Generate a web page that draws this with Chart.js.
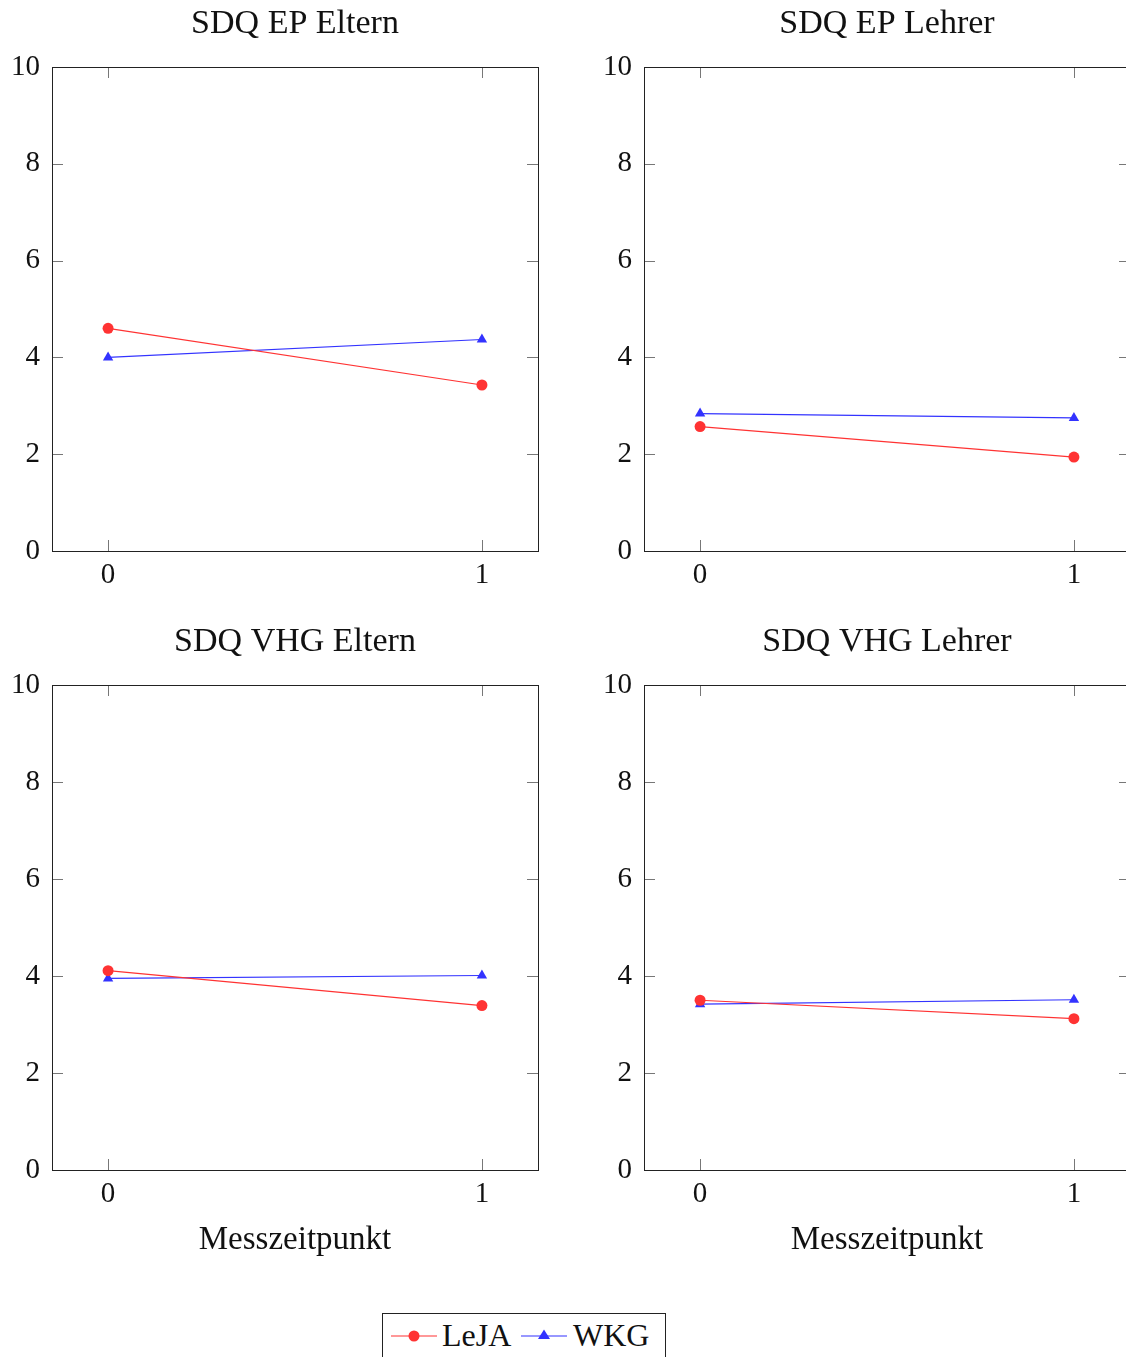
<!DOCTYPE html>
<html>
<head>
<meta charset="utf-8">
<script src="https://cdn.jsdelivr.net/npm/chart.js@4.4.1/dist/chart.umd.min.js"></script>
<style>
  html, body { margin: 0; padding: 0; background: #fff; }
  body { width: 1126px; height: 1357px; overflow: hidden; position: relative; }
  .panel { position: absolute; }
  #legend {
    position: absolute; left: 382px; top: 1313px; width: 284px; height: 60px;
    border: 1px solid #222; font-family: "Liberation Serif", serif; font-size: 32px;
    color: #111; box-sizing: border-box;
  }
  #legend svg { position: absolute; top: 9px; }
  #legend span { position: absolute; top: 3px; }
</style>
</head>
<body>
<canvas id="c0" class="panel" style="left:0px;top:0px" width="570" height="610"></canvas>
<canvas id="c1" class="panel" style="left:592px;top:0px" width="570" height="610"></canvas>
<canvas id="c2" class="panel" style="left:0px;top:618px" width="570" height="642"></canvas>
<canvas id="c3" class="panel" style="left:592px;top:618px" width="570" height="642"></canvas>
<div id="legend">
  <svg style="left:8px" width="46" height="26"><line x1="0" y1="13" x2="46" y2="13" stroke="#ff3333" stroke-width="1.2"/><circle cx="23" cy="13" r="5.5" fill="#ff3333"/></svg>
  <span style="left:59px">LeJA</span>
  <svg style="left:138px" width="46" height="26"><line x1="0" y1="13" x2="46" y2="13" stroke="#3333ff" stroke-width="1.2"/><polygon points="23,6.5 29,16 17,16" fill="#3333ff"/></svg>
  <span style="left:190px">WKG</span>
</div>
<script>
document.addEventListener("DOMContentLoaded", function(event) {
if (typeof Chart === 'undefined') {
  console.error('Chart.js is not loaded.');
  return;
}

// Data
const categories = [0, 1]; // Messzeitpunkt
const panelTitles = ['SDQ EP Eltern', 'SDQ EP Lehrer', 'SDQ VHG Eltern', 'SDQ VHG Lehrer'];
const lejaValues = [
  [4.60, 3.43],
  [2.57, 1.94],
  [4.11, 3.39],
  [3.50, 3.12]
];
const wkgValues = [
  [4.00, 4.37],
  [2.84, 2.75],
  [3.95, 4.01],
  [3.42, 3.51]
];
const yTicks = [0, 2, 4, 6, 8, 10];
const xLabel = 'Messzeitpunkt';

const fontFamily = '"Liberation Serif", serif';
const red = '#ff3333';
const blue = '#3333ff';

// pgfplots-like frame with inward ticks on all four sides, title centred on the plot box
const framePlugin = {
  id: 'frame',
  afterDatasetsDraw(chart, args, opts) {
    const ctx = chart.ctx;
    const a = chart.chartArea;
    const xs = chart.scales.x, ys = chart.scales.y;
    const len = 11;
    ctx.save();
    ctx.strokeStyle = '#777';
    ctx.lineWidth = 1;
    ctx.beginPath();
    yTicks.forEach(v => {
      const py = Math.round(ys.getPixelForValue(v)) + 0.5;
      ctx.moveTo(a.left, py); ctx.lineTo(a.left + len, py);
      ctx.moveTo(a.right, py); ctx.lineTo(a.right - len, py);
    });
    categories.forEach(v => {
      const px = Math.round(xs.getPixelForValue(v)) + 0.5;
      ctx.moveTo(px, a.top); ctx.lineTo(px, a.top + len);
      ctx.moveTo(px, a.bottom); ctx.lineTo(px, a.bottom - len);
    });
    ctx.stroke();
    ctx.strokeStyle = '#222';
    ctx.strokeRect(Math.round(a.left) + 0.5, Math.round(a.top) + 0.5,
                   Math.round(a.right - a.left), Math.round(a.bottom - a.top));

    ctx.fillStyle = '#111';
    ctx.font = '34px ' + fontFamily;
    ctx.textAlign = 'center';
    ctx.textBaseline = 'middle';
    ctx.fillText(opts.text, (a.left + a.right) / 2, 24);
    ctx.restore();
  }
};

function makeChart(idx, withXLabel) {
  const canvas = document.getElementById('c' + idx);
  const ctx = canvas.getContext('2d');
  const toPoints = arr => categories.map((c, i) => ({ x: c, y: arr[i] }));
  const xAxisHeight = withXLabel ? 90 : 59;

  new Chart(ctx, {
    type: 'line',
    data: {
      datasets: [{
        label: 'LeJA',
        data: toPoints(lejaValues[idx]),
        borderColor: red,
        backgroundColor: red,
        borderWidth: 1.2,
        pointStyle: 'circle',
        pointRadius: 5.5,
        pointBorderWidth: 0
      }, {
        label: 'WKG',
        data: toPoints(wkgValues[idx]),
        borderColor: blue,
        backgroundColor: blue,
        borderWidth: 1.2,
        pointStyle: 'triangle',
        pointRadius: 6,
        pointBorderWidth: 0
      }]
    },
    options: {
      responsive: false,
      animation: false,
      layout: { padding: { left: 0, right: 32, top: 67, bottom: 0 } },
      plugins: {
        legend: { display: false },
        tooltip: { enabled: false },
        title: { display: false },
        frame: { text: panelTitles[idx] }
      },
      scales: {
        x: {
          type: 'linear',
          min: -0.15,
          max: 1.15,
          afterBuildTicks: s => { s.ticks = categories.map(v => ({ value: v })); },
          afterFit: s => { s.height = xAxisHeight; },
          grid: { display: false, drawTicks: false },
          border: { display: false },
          ticks: {
            color: '#111',
            padding: 7,
            maxRotation: 0,
            font: { family: fontFamily, size: 29 }
          },
          title: {
            display: withXLabel,
            text: xLabel,
            color: '#111',
            padding: { top: 2, bottom: 0 },
            font: { family: fontFamily, size: 33 }
          }
        },
        y: {
          min: 0,
          max: 10,
          afterBuildTicks: s => { s.ticks = yTicks.map(v => ({ value: v })); },
          afterFit: s => { s.width = 52; },
          grid: { display: false, drawTicks: false },
          border: { display: false },
          ticks: {
            color: '#111',
            padding: 12,
            font: { family: fontFamily, size: 29 }
          }
        }
      }
    },
    plugins: [framePlugin]
  });
}

makeChart(0, false);
makeChart(1, false);
makeChart(2, true);
makeChart(3, true);
});
</script>
</body>
</html>
